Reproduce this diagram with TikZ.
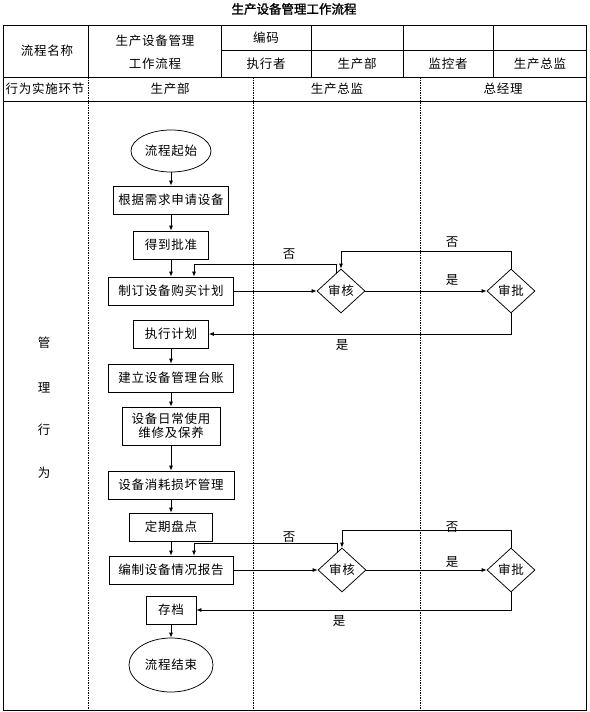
\documentclass[tikz,border=0pt]{standalone}
\usepackage{fontspec}
\setmainfont{Noto Sans CJK SC}[LetterSpace=6]
\newfontfamily\titlefont{Noto Sans CJK SC}[FakeBold=1.6]
\usetikzlibrary{arrows.meta,shapes.geometric,calc}
\begin{document}
\begin{tikzpicture}[x=1pt,y=-1pt,line width=.75pt,font=\fontsize{12.5}{14}\selectfont,
  box/.style={draw,minimum height=28pt,inner sep=2pt},
  oval/.style={draw,ellipse,minimum width=80pt,minimum height=42pt,inner sep=1pt},
  dia/.style={draw,diamond,minimum width=48pt,minimum height=44pt,inner sep=0pt},
  arr/.style={-{Latex[length=5pt,width=4pt]}},
  lane/.style={line width=.6pt,dash pattern=on 2pt off 1.2pt on .6pt off 1.2pt}]
\useasboundingbox (0,0) rectangle (589,712);
\node[font=\titlefont\fontsize{12.5}{14}\selectfont] (title) at (294,9) {生产设备管理工作流程};
\draw[line width=1pt] (3,25) rectangle (586,710);
\draw (3,77)--(586,77) (3,101)--(586,101) (221,50)--(586,50);
\draw (88,25)--(88,77) (221,25)--(221,77) (311,25)--(311,77) (403,25)--(403,77) (493,25)--(493,77);
\draw[lane] (88,77)--(88,710) (253,77)--(253,710) (420,77)--(420,710);
\node (hname) at (47,51) {流程名称};
\node[align=center,font=\fontsize{12.5}{23}\selectfont] (hflow) at (155,52) {生产设备管理\\工作流程};
\node (hcode) at (266,38) {编码};
\node (hexec) at (266,64) {执行者};
\node (hexecv) at (357,64) {生产部};
\node (hmon) at (448,64) {监控者};
\node (hmonv) at (540,64) {生产总监};
\node (hstep) at (45,89) {行为实施环节};
\node (lprod) at (170,89) {生产部};
\node (ldir) at (337,89) {生产总监};
\node (lgm) at (503,89) {总经理};
\foreach \c/\y in {管/343,理/388,行/430,为/473}
  \node (v\y) at (44,\y) {\c};

\node[oval] (start) at (171,151) {流程起始};
\node[box,minimum width=115pt] (apply) at (171,200) {根据需求申请设备};
\node[box,minimum width=75pt] (approve) at (171,245) {得到批准};
\node[box,minimum width=125pt] (plan) at (171,291) {制订设备购买计划};
\node[dia] (chk1) at (341,291) {审核};
\node[dia] (appr1) at (511,291) {审批};
\node[box,minimum width=75pt] (exec) at (171,334) {执行计划};
\node[box,minimum width=125pt] (ledger) at (171,378) {建立设备管理台账};
\node[box,minimum width=98pt,minimum height=38pt,align=center] (maint) at (171,426) {设备日常使用\\维修及保养};
\node[box,minimum width=126pt] (wear) at (171,485) {设备消耗损坏管理};
\node[box,minimum width=83pt] (count) at (171,527) {定期盘点};
\node[box,minimum width=124pt] (report) at (171,570) {编制设备情况报告};
\node[dia] (chk2) at (342,570) {审核};
\node[dia] (appr2) at (511,570) {审批};
\node[box,minimum width=50pt] (arch) at (171,610) {存档};
\node[oval,minimum width=84pt,minimum height=54pt] (end) at (171,665) {流程结束};

\draw[arr] (start)--(apply);
\draw[arr] (apply)--(approve);
\draw[arr] (approve)--(plan);
\draw[arr] (plan)--(chk1);
\draw[arr] (chk1)--(appr1);
\draw[arr] ($(chk1.north)!.2!(chk1.west)$)--++(0,-9) -| ([xshift=23pt]plan.north);
\draw[arr] (appr1.north)--++(0,-17) -| (chk1.north);
\draw[arr] (appr1.south) |- (exec.east);
\draw[arr] (exec)--(ledger);
\draw[arr] (ledger)--(maint);
\draw[arr] (maint)--(wear);
\draw[arr] (wear)--(count);
\draw[arr] (count)--(report);
\draw[arr] (report)--(chk2);
\draw[arr] (chk2)--(appr2);
\draw[arr] ($(chk2.north)!.2!(chk2.west)$)--++(0,-9) -| ([xshift=23pt]report.north);
\draw[arr] (appr2.north)--++(0,-17) -| (chk2.north);
\draw[arr] (appr2.south) |- (arch.east);
\draw[arr] (arch)--(end);
\node (no1) at (289,254) {否};
\node (no2) at (452,242) {否};
\node (yes1) at (452,280) {是};
\node (yes2) at (342,345) {是};
\node (no3) at (289,537) {否};
\node (no4) at (452,527) {否};
\node (yes3) at (452,562) {是};
\node (yes4) at (339,621) {是};
\end{tikzpicture}
\end{document}
